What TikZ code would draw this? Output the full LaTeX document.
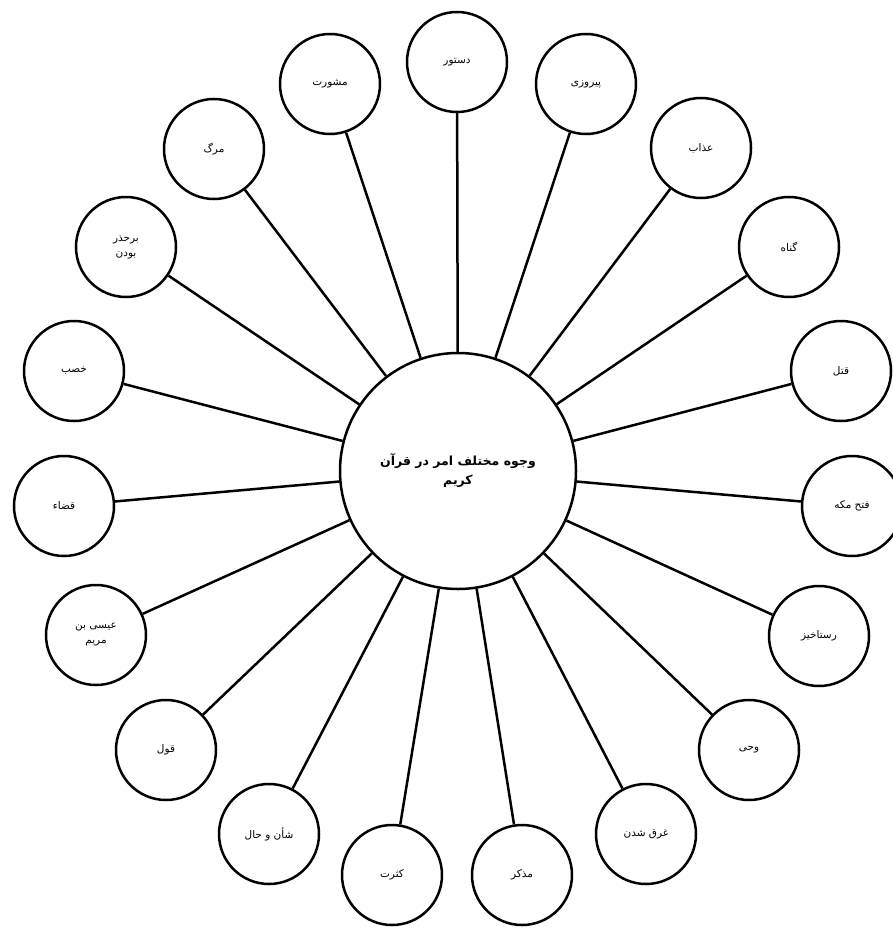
\documentclass[tikz,border=0pt]{standalone}
\usepackage{fontspec}
\TeXXeTstate=1
\newfontfamily\arabicfont[Script=Arabic]{DejaVu Sans}
\newcommand{\ptxt}[1]{\beginR #1\endR}
\begin{document}
\begin{tikzpicture}[x=1pt,y=-1pt,
  leaf/.style={circle,draw,line width=2.5pt,minimum size=100pt,inner sep=0pt,align=center,font=\arabicfont\fontsize{10.5}{15}\selectfont},
  hub/.style={circle,draw,line width=2.5pt,minimum size=236pt,inner sep=0pt,align=center,font=\arabicfont\bfseries\fontsize{12.5}{19}\selectfont},
  spoke/.style={line width=2.5pt}]
\useasboundingbox (0,0) rectangle (893,928);
\node[hub] (c) at (458,471) {\ptxt{وجوه مختلف امر در قرآن}\\\ptxt{کریم}};
\node[leaf] (n1) at (457,62) {\ptxt{دستور}};
\node[leaf] (n2) at (330,84) {\ptxt{مشورت}};
\node[leaf] (n3) at (214,149) {\ptxt{مرگ}};
\node[leaf] (n4) at (126,247) {\ptxt{برحذر}\\\ptxt{بودن}};
\node[leaf] (n5) at (74,371) {\ptxt{خصب}};
\node[leaf] (n6) at (64,506) {\ptxt{قضاء}};
\node[leaf] (n7) at (96,635) {\ptxt{عیسی بن}\\\ptxt{مریم}};
\node[leaf] (n8) at (166,750) {\ptxt{قول}};
\node[leaf] (n9) at (269,834) {\ptxt{شأن و حال}};
\node[leaf] (n10) at (392,875) {\ptxt{کثرت}};
\node[leaf] (n11) at (522,875) {\ptxt{مذکر}};
\node[leaf] (n12) at (646,834) {\ptxt{غرق شدن}};
\node[leaf] (n13) at (749,750) {\ptxt{وحی}};
\node[leaf] (n14) at (819,636) {\ptxt{رستاخیز}};
\node[leaf] (n15) at (852,506) {\ptxt{فتح مکه}};
\node[leaf] (n16) at (841,371) {\ptxt{قتل}};
\node[leaf] (n17) at (789,247) {\ptxt{گناه}};
\node[leaf] (n18) at (701,148) {\ptxt{عذاب}};
\node[leaf] (n19) at (586,84) {\ptxt{پیروزی}};
\foreach \i in {1,...,19} \draw[spoke] (c) -- (n\i);
\end{tikzpicture}
\end{document}
